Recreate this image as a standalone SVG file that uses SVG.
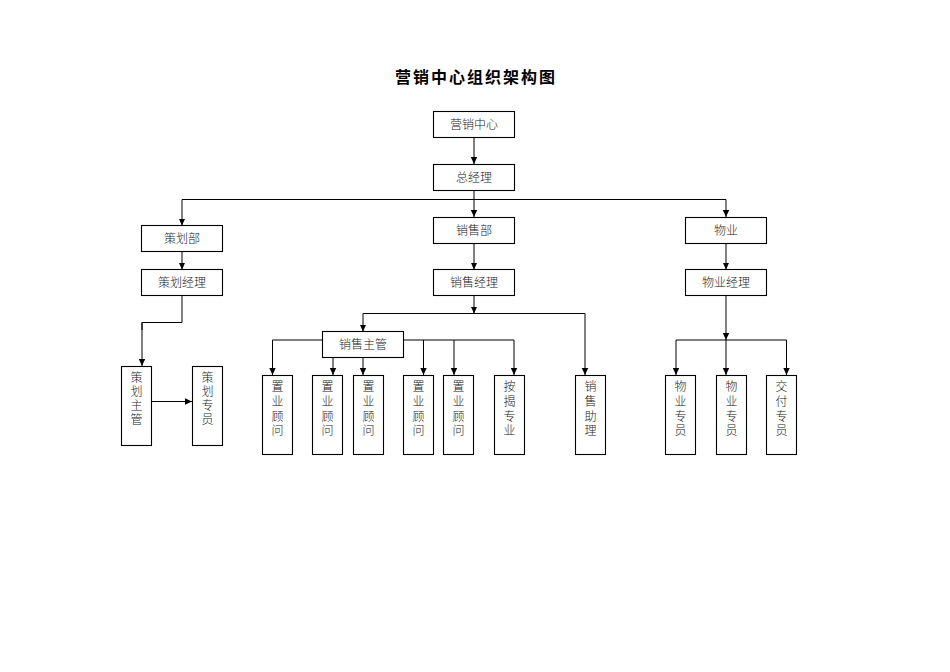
<svg xmlns="http://www.w3.org/2000/svg" width="950" height="672" viewBox="0 0 950 672">
<defs>
<marker id="ah" markerWidth="8" markerHeight="8" refX="7" refY="4" orient="auto" markerUnits="userSpaceOnUse">
<path d="M0,0.8 L7,4 L0,7.2 Z" fill="#000"/>
</marker>
<style>
.box{fill:#fff;stroke:#000;stroke-width:1.1}
.t{font-family:"Liberation Serif","Noto Sans CJK SC",serif;font-size:12px;font-weight:300;fill:#222;text-anchor:middle}
.c{fill:none;stroke:#000;stroke-width:1}
.a{marker-end:url(#ah)}
.title{font-family:"Noto Sans CJK SC",sans-serif;font-size:16px;font-weight:bold;fill:#000;text-anchor:middle;letter-spacing:2px}
</style>
</defs>
<rect width="950" height="672" fill="#fff"/>
<text class="title" x="476" y="83">营销中心组织架构图</text>

<g id="connectors">
<path class="c a" d="M474,138 V164"/>
<path class="c" d="M474,190 V199.5"/>
<path class="c" d="M182,199.5 H726"/>
<path class="c a" d="M182,199.5 V225.5"/>
<path class="c a" d="M474,199.5 V217"/>
<path class="c a" d="M726,199.5 V217"/>
<path class="c a" d="M182,252 V269.5"/>
<path class="c a" d="M474,243.5 V269.5"/>
<path class="c a" d="M726,243.5 V269.5"/>
<path class="c" d="M182,296 V322.5 H142 V330"/>
<path class="c a" d="M142,322.5 V366"/>
<path class="c a" d="M151.5,401.5 H192"/>
<path class="c a" d="M474,296 V313.5"/>
<path class="c" d="M363,313.5 H585"/>
<path class="c a" d="M363,313.5 V331.5"/>
<path class="c a" d="M585,313.5 V375"/>
<path class="c" d="M322.5,340 H272.5"/>
<path class="c a" d="M272.5,340 V375"/>
<path class="c" d="M403.5,340 H514"/>
<path class="c a" d="M514,340 V375"/>
<path class="c a" d="M423.5,340 V375"/>
<path class="c a" d="M454,340 V375"/>
<path class="c a" d="M333,357.5 V375"/>
<path class="c a" d="M363,357.5 V375"/>
<path class="c a" d="M726,296 V340"/>
<path class="c" d="M676,340 H786.5"/>
<path class="c a" d="M676,340 V375"/>
<path class="c a" d="M726,340 V375"/>
<path class="c a" d="M786.5,340 V375"/>
</g>

<g id="n-center"><rect class="box" x="433.5" y="111.5" width="81" height="26"/><text class="t" x="474" y="128.5">营销中心</text></g>
<g id="n-gm"><rect class="box" x="433.5" y="164.5" width="81" height="26"/><text class="t" x="474" y="181.5">总经理</text></g>
<g id="n-plan"><rect class="box" x="141.5" y="225.5" width="81" height="26"/><text class="t" x="182" y="242.5">策划部</text></g>
<g id="n-sales"><rect class="box" x="433.5" y="217.5" width="81" height="26"/><text class="t" x="474" y="234.5">销售部</text></g>
<g id="n-prop"><rect class="box" x="685.5" y="217.5" width="81" height="26"/><text class="t" x="726" y="234.5">物业</text></g>
<g id="n-planmgr"><rect class="box" x="141.5" y="269.5" width="81" height="26"/><text class="t" x="182" y="286.5">策划经理</text></g>
<g id="n-salesmgr"><rect class="box" x="433.5" y="269.5" width="81" height="26"/><text class="t" x="474" y="286.5">销售经理</text></g>
<g id="n-propmgr"><rect class="box" x="685.5" y="269.5" width="81" height="26"/><text class="t" x="726" y="286.5">物业经理</text></g>
<g id="n-salessup"><rect class="box" x="322.5" y="331.5" width="81" height="26"/><text class="t" x="363" y="348.5">销售主管</text></g>

<g id="n-plansup"><rect class="box" x="121.5" y="366.5" width="30" height="79"/>
<text class="t"><tspan x="136.5" y="381.5">策</tspan><tspan x="136.5" y="395.5">划</tspan><tspan x="136.5" y="409.5">主</tspan><tspan x="136.5" y="423.5">管</tspan></text></g>
<g id="n-planstaff"><rect class="box" x="192.5" y="366.5" width="30" height="79"/>
<text class="t"><tspan x="207.5" y="381.5">策</tspan><tspan x="207.5" y="395.5">划</tspan><tspan x="207.5" y="409.5">专</tspan><tspan x="207.5" y="423.5">员</tspan></text></g>

<g id="n-c1"><rect class="box" x="262.5" y="375.5" width="30" height="79"/>
<text class="t"><tspan x="277.5" y="391">置</tspan><tspan x="277.5" y="406">业</tspan><tspan x="277.5" y="420.5">顾</tspan><tspan x="277.5" y="434.5">问</tspan></text></g>
<g id="n-c2"><rect class="box" x="312.5" y="375.5" width="30" height="79"/>
<text class="t"><tspan x="327.5" y="391">置</tspan><tspan x="327.5" y="406">业</tspan><tspan x="327.5" y="420.5">顾</tspan><tspan x="327.5" y="434.5">问</tspan></text></g>
<g id="n-c3"><rect class="box" x="353.5" y="375.5" width="30" height="79"/>
<text class="t"><tspan x="368.5" y="391">置</tspan><tspan x="368.5" y="406">业</tspan><tspan x="368.5" y="420.5">顾</tspan><tspan x="368.5" y="434.5">问</tspan></text></g>
<g id="n-c4"><rect class="box" x="403.5" y="375.5" width="30" height="79"/>
<text class="t"><tspan x="418.5" y="391">置</tspan><tspan x="418.5" y="406">业</tspan><tspan x="418.5" y="420.5">顾</tspan><tspan x="418.5" y="434.5">问</tspan></text></g>
<g id="n-c5"><rect class="box" x="443.5" y="375.5" width="30" height="79"/>
<text class="t"><tspan x="458.5" y="391">置</tspan><tspan x="458.5" y="406">业</tspan><tspan x="458.5" y="420.5">顾</tspan><tspan x="458.5" y="434.5">问</tspan></text></g>
<g id="n-mortgage"><rect class="box" x="494.5" y="375.5" width="30" height="79"/>
<text class="t"><tspan x="509.5" y="391">按</tspan><tspan x="509.5" y="406">揭</tspan><tspan x="509.5" y="420.5">专</tspan><tspan x="509.5" y="434.5">业</tspan></text></g>
<g id="n-assist"><rect class="box" x="575.5" y="375.5" width="30" height="79"/>
<text class="t"><tspan x="590.5" y="391">销</tspan><tspan x="590.5" y="406">售</tspan><tspan x="590.5" y="420.5">助</tspan><tspan x="590.5" y="434.5">理</tspan></text></g>
<g id="n-p1"><rect class="box" x="665.5" y="375.5" width="30" height="79"/>
<text class="t"><tspan x="680.5" y="391">物</tspan><tspan x="680.5" y="406">业</tspan><tspan x="680.5" y="420.5">专</tspan><tspan x="680.5" y="434.5">员</tspan></text></g>
<g id="n-p2"><rect class="box" x="716.5" y="375.5" width="30" height="79"/>
<text class="t"><tspan x="731.5" y="391">物</tspan><tspan x="731.5" y="406">业</tspan><tspan x="731.5" y="420.5">专</tspan><tspan x="731.5" y="434.5">员</tspan></text></g>
<g id="n-deliver"><rect class="box" x="766.5" y="375.5" width="30" height="79"/>
<text class="t"><tspan x="781.5" y="391">交</tspan><tspan x="781.5" y="406">付</tspan><tspan x="781.5" y="420.5">专</tspan><tspan x="781.5" y="434.5">员</tspan></text></g>
</svg>
